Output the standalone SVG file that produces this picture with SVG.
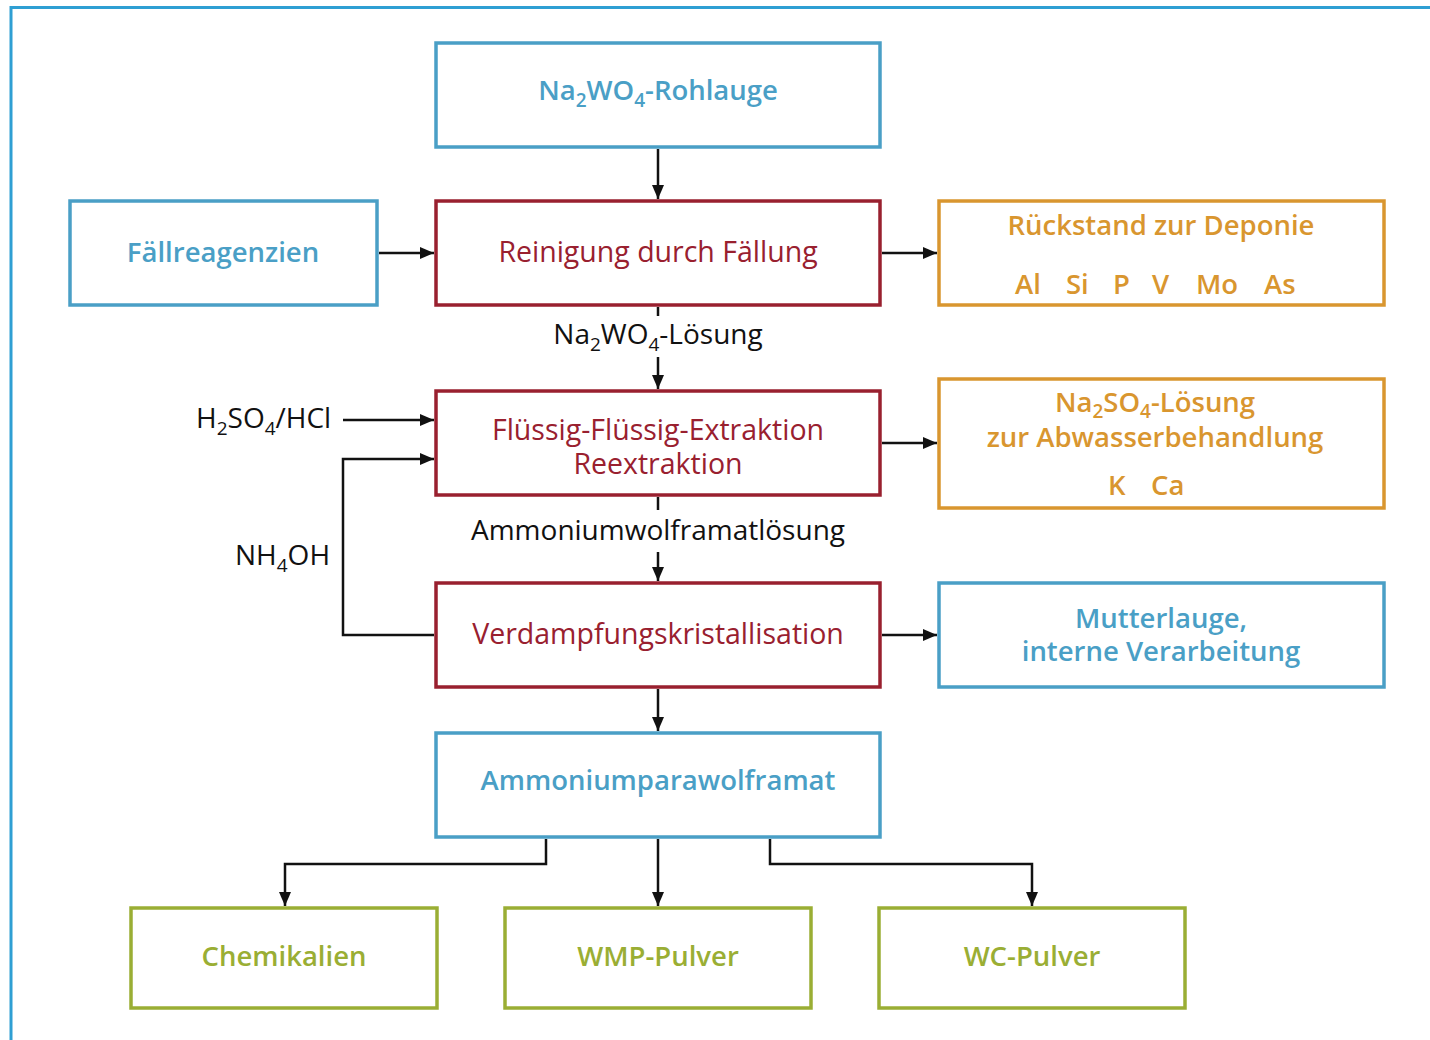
<svg xmlns="http://www.w3.org/2000/svg" width="1430" height="1040" viewBox="0 0 1430 1040">
<defs>
<marker id="ah" markerWidth="14" markerHeight="12" refX="14" refY="6" orient="auto" markerUnits="userSpaceOnUse">
<path d="M0,0 L14,6 L0,12 Z" fill="#111"/>
</marker>
<style>
.box{fill:#fff;stroke-width:3.5}
.b{stroke:#4a9fc6}.r{stroke:#99202f}.o{stroke:#d9962f}.g{stroke:#9aae34}
.t{font-family:"Open Sans","Noto Sans",sans-serif;font-size:28.5px;text-anchor:middle}
.tb{font-weight:600;font-size:27.5px}
.cb{fill:#4a9fc6}.cr{fill:#99202f}.co{fill:#d9962f}.cg{fill:#9aae34}
.lbl{font-family:"Open Sans","Noto Sans",sans-serif;font-size:28px;fill:#111}
.c{fill:none;stroke:#111;stroke-width:2.5}
</style>
</defs>
<rect width="1430" height="1040" fill="#fff"/>
<path d="M11,1040 V7.5 H1430" fill="none" stroke="#2f9fd3" stroke-width="3"/>

<g id="connectors">
<line class="c" x1="658" y1="149" x2="658" y2="199" marker-end="url(#ah)"/>
<line class="c" x1="379" y1="253" x2="434" y2="253" marker-end="url(#ah)"/>
<line class="c" x1="882" y1="253" x2="937" y2="253" marker-end="url(#ah)"/>
<line class="c" x1="658" y1="307" x2="658" y2="316"/>
<line class="c" x1="658" y1="357" x2="658" y2="389" marker-end="url(#ah)"/>
<line class="c" x1="343" y1="420" x2="434" y2="420" marker-end="url(#ah)"/>
<polyline class="c" points="434,635 343,635 343,459 434,459" marker-end="url(#ah)"/>
<line class="c" x1="882" y1="443" x2="937" y2="443" marker-end="url(#ah)"/>
<line class="c" x1="658" y1="497" x2="658" y2="510"/>
<line class="c" x1="658" y1="552" x2="658" y2="581" marker-end="url(#ah)"/>
<line class="c" x1="882" y1="635" x2="937" y2="635" marker-end="url(#ah)"/>
<line class="c" x1="658" y1="689" x2="658" y2="731" marker-end="url(#ah)"/>
<polyline class="c" points="546,839 546,864 285,864 285,906" marker-end="url(#ah)"/>
<line class="c" x1="658" y1="839" x2="658" y2="906" marker-end="url(#ah)"/>
<polyline class="c" points="770,839 770,864 1032,864 1032,906" marker-end="url(#ah)"/>
<text class="lbl" x="658" y="344" text-anchor="middle">Na<tspan font-size="19" dy="7">2</tspan><tspan dy="-7">WO</tspan><tspan font-size="19" dy="7">4</tspan><tspan dy="-7">-Lösung</tspan></text>
<text class="lbl" x="658" y="540" text-anchor="middle">Ammoniumwolframatlösung</text>
<text class="lbl" x="196" y="428">H<tspan font-size="19" dy="7">2</tspan><tspan dy="-7">SO</tspan><tspan font-size="19" dy="7">4</tspan><tspan dy="-7">/HCl</tspan></text>
<text class="lbl" x="235" y="565">NH<tspan font-size="19" dy="7">4</tspan><tspan dy="-7">OH</tspan></text>
</g>

<g id="n-rohlauge">
<rect class="box b" x="436" y="43" width="444" height="104"/>
<text class="t tb cb" x="658" y="100">Na<tspan font-size="19" dy="7">2</tspan><tspan dy="-7">WO</tspan><tspan font-size="19" dy="7">4</tspan><tspan dy="-7">-Rohlauge</tspan></text>
</g>
<g id="n-faellreagenzien">
<rect class="box b" x="70" y="201" width="307" height="104"/>
<text class="t tb cb" x="223" y="262">Fällreagenzien</text>
</g>
<g id="n-reinigung">
<rect class="box r" x="436" y="201" width="444" height="104"/>
<text class="t cr" x="658" y="262">Reinigung durch Fällung</text>
</g>
<g id="n-rueckstand">
<rect class="box o" x="939" y="201" width="445" height="104"/>
<text class="t tb co" x="1161" y="235">Rückstand zur Deponie</text>
<g class="t tb co" style="text-anchor:start">
<text x="1015" y="294">Al</text><text x="1066" y="294">Si</text><text x="1113" y="294">P</text><text x="1152" y="294">V</text><text x="1196" y="294">Mo</text><text x="1264" y="294">As</text>
</g>
</g>
<g id="n-extraktion">
<rect class="box r" x="436" y="391" width="444" height="104"/>
<text class="t cr" x="658" y="440">Flüssig-Flüssig-Extraktion</text>
<text class="t cr" x="658" y="474">Reextraktion</text>
</g>
<g id="n-na2so4">
<rect class="box o" x="939" y="379" width="445" height="129"/>
<text class="t tb co" x="1155" y="412">Na<tspan font-size="19" dy="6">2</tspan><tspan dy="-6">SO</tspan><tspan font-size="19" dy="6">4</tspan><tspan dy="-6">-Lösung</tspan></text>
<text class="t tb co" x="1155" y="447">zur Abwasserbehandlung</text>
<g class="t tb co" style="text-anchor:start">
<text x="1108" y="495">K</text><text x="1151" y="495">Ca</text>
</g>
</g>
<g id="n-verdampfung">
<rect class="box r" x="436" y="583" width="444" height="104"/>
<text class="t cr" x="658" y="644">Verdampfungskristallisation</text>
</g>
<g id="n-mutterlauge">
<rect class="box b" x="939" y="583" width="445" height="104"/>
<text class="t tb cb" x="1161" y="628">Mutterlauge,</text>
<text class="t tb cb" x="1161" y="661">interne Verarbeitung</text>
</g>
<g id="n-apw">
<rect class="box b" x="436" y="733" width="444" height="104"/>
<text class="t tb cb" x="658" y="790">Ammoniumparawolframat</text>
</g>
<g id="n-chemikalien">
<rect class="box g" x="131" y="908" width="306" height="100"/>
<text class="t tb cg" x="284" y="966">Chemikalien</text>
</g>
<g id="n-wmp">
<rect class="box g" x="505" y="908" width="306" height="100"/>
<text class="t tb cg" x="658" y="966">WMP-Pulver</text>
</g>
<g id="n-wc">
<rect class="box g" x="879" y="908" width="306" height="100"/>
<text class="t tb cg" x="1032" y="966">WC-Pulver</text>
</g>
</svg>
